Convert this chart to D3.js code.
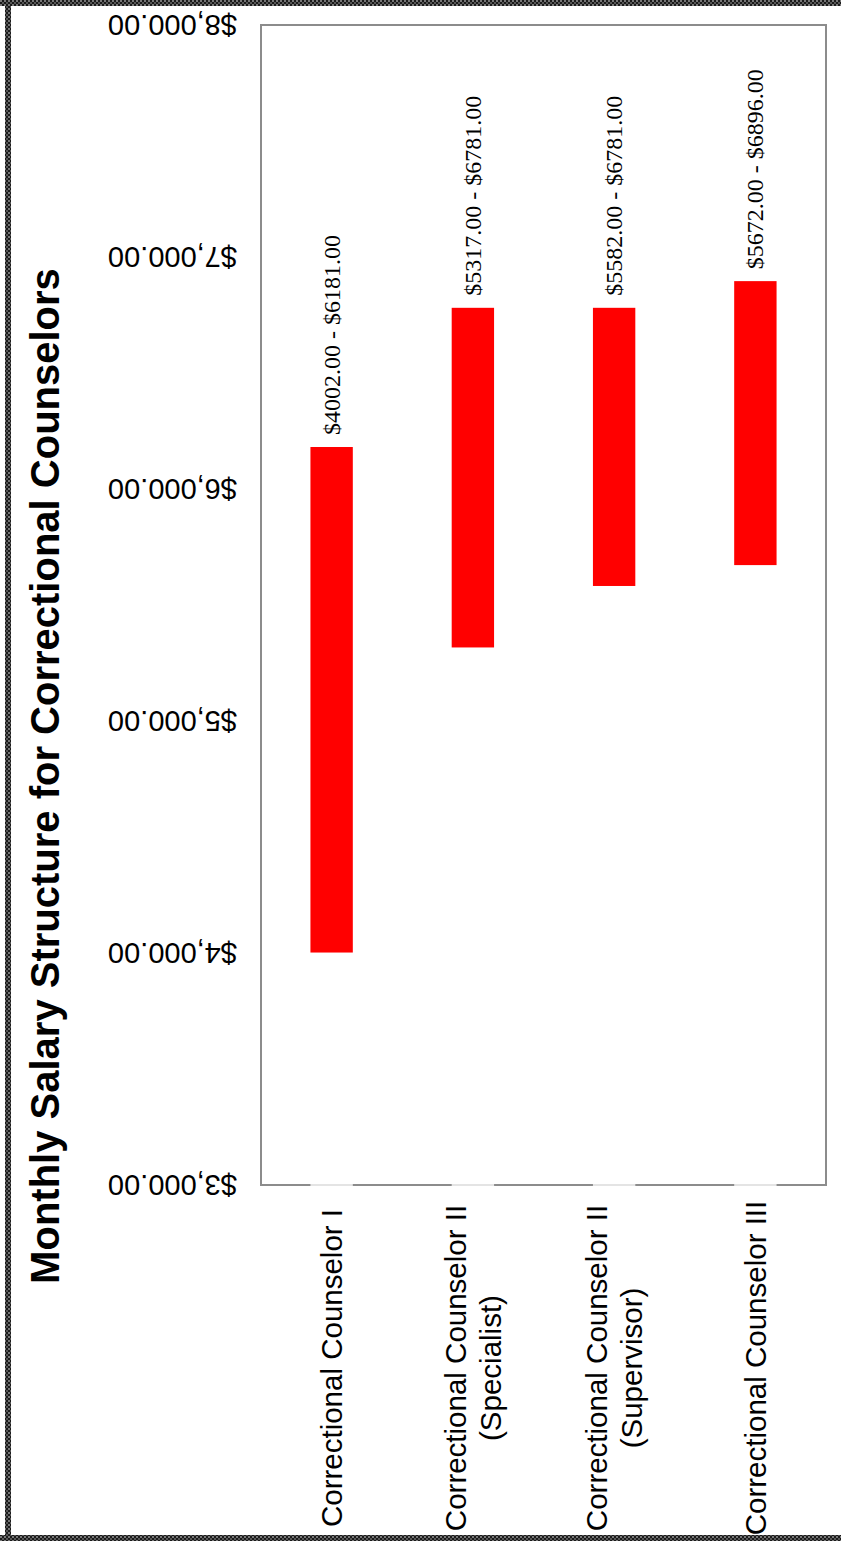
<!DOCTYPE html>
<html>
<head>
<meta charset="utf-8">
<script src="https://cdnjs.cloudflare.com/ajax/libs/d3/7.8.5/d3.min.js"></script>
<style>
	html, body { margin: 0; padding: 0; background: #fff; }
	svg { display: block; }
</style>
</head>
<body>
<svg id="chart"></svg>
<script>
// chart values
var categories = [
	["Correctional Counselor I"],
	["Correctional Counselor II", "(Specialist)"],
	["Correctional Counselor II", "(Supervisor)"],
	["Correctional Counselor III"]
];
var minSalary = [4002, 5317, 5582, 5672];
var maxSalary = [6181, 6781, 6781, 6896];
var tickValues = [3000, 4000, 5000, 6000, 7000, 8000];
var title = "Monthly Salary Structure for Correctional Counselors";

var W = 841, H = 1541;
var plot = {left: 261, right: 826, top: 25, bottom: 1185};

var svg = d3.select("#chart")
	.attr("width", W)
	.attr("height", H);

// checkered frame around the page
var defs = svg.append("defs");
var pat = defs.append("pattern")
	.attr("id", "frame")
	.attr("width", 4).attr("height", 4)
	.attr("patternUnits", "userSpaceOnUse");
pat.append("rect").attr("width", 4).attr("height", 4).attr("fill", "#1a1a1a");
pat.append("rect").attr("width", 2).attr("height", 2).attr("fill", "#777");
pat.append("rect").attr("x", 2).attr("y", 2).attr("width", 2).attr("height", 2).attr("fill", "#555");

svg.append("rect").attr("x", 0).attr("y", 0).attr("width", W).attr("height", 6).attr("fill", "url(#frame)");
svg.append("rect").attr("x", 5).attr("y", 0).attr("width", 6).attr("height", H).attr("fill", "url(#frame)");
svg.append("rect").attr("x", 0).attr("y", H - 6).attr("width", W).attr("height", 6).attr("fill", "url(#frame)");

var x = d3.scaleBand()
	.domain(d3.range(categories.length))
	.range([plot.left, plot.right])
	.paddingInner(0).paddingOuter(0);

var y = d3.scaleLinear()
	.domain([3000, 8000])
	.range([plot.bottom, plot.top]);

var barW = x.bandwidth() * 0.3;
var money = d3.format(".2f");

// plot frame
svg.append("rect")
	.attr("x", plot.left).attr("y", plot.top)
	.attr("width", plot.right - plot.left)
	.attr("height", plot.bottom - plot.top)
	.attr("fill", "none")
	.attr("stroke", "#8c8c8c")
	.attr("stroke-width", 2);

// light segments on the base line under each bar
svg.selectAll("line.base")
	.data(categories)
	.enter()
	.append("line")
	.attr("class", "base")
	.attr("x1", function(d, i){ return x(i) + x.bandwidth() / 2 - barW / 2; })
	.attr("x2", function(d, i){ return x(i) + x.bandwidth() / 2 + barW / 2; })
	.attr("y1", plot.bottom).attr("y2", plot.bottom)
	.attr("stroke", "#e4e4e4")
	.attr("stroke-width", 2);

// value axis labels, drawn upside down like the source
svg.selectAll("text.tick")
	.data(tickValues)
	.enter()
	.append("text")
	.attr("class", "tick")
	.attr("transform", function(d){ return "translate(237," + y(d) + ") rotate(180)"; })
	.attr("dominant-baseline", "central")
	.attr("text-anchor", "start")
	.style("font-family", "'Liberation Sans', Arial, sans-serif")
	.style("font-size", "29px")
	.text(function(d){ return "$" + d3.format(",.2f")(d); });

// floating bars
svg.selectAll("rect.bar")
	.data(minSalary)
	.enter()
	.append("rect")
	.attr("class", "bar")
	.attr("x", function(d, i){ return x(i) + x.bandwidth() / 2 - barW / 2; })
	.attr("y", function(d, i){ return y(maxSalary[i]); })
	.attr("width", barW)
	.attr("height", function(d, i){ return y(d) - y(maxSalary[i]); })
	.attr("fill", "#ff0000");

// range labels above bars
svg.selectAll("text.range")
	.data(minSalary)
	.enter()
	.append("text")
	.attr("class", "range")
	.attr("transform", function(d, i){
		return "translate(" + (x(i) + x.bandwidth() / 2) + "," + (y(maxSalary[i]) - 12) + ") rotate(-90)";
	})
	.attr("dominant-baseline", "central")
	.attr("text-anchor", "start")
	.style("font-family", "'Liberation Serif', 'Times New Roman', serif")
	.style("font-size", "24px")
	.text(function(d, i){ return "$" + money(d) + " - $" + money(maxSalary[i]); });

// category labels
var cat = svg.selectAll("g.cat")
	.data(categories)
	.enter()
	.append("g")
	.attr("class", "cat")
	.attr("transform", function(d, i){
		return "translate(" + (x(i) + x.bandwidth() / 2) + ",1368) rotate(-90)";
	});

cat.selectAll("text")
	.data(function(d){ return d.map(function(s, k){ return {s: s, k: k, n: d.length}; }); })
	.enter()
	.append("text")
	.attr("x", 0)
	.attr("y", function(d){ return (d.k - (d.n - 1) / 2) * 35; })
	.attr("dominant-baseline", "central")
	.attr("text-anchor", "middle")
	.style("font-family", "'Liberation Sans', Arial, sans-serif")
	.style("font-size", "29.5px")
	.text(function(d){ return d.s; });

// title
svg.append("text")
	.attr("transform", "translate(45,776) rotate(-90)")
	.attr("dominant-baseline", "central")
	.attr("text-anchor", "middle")
	.style("font-family", "'Liberation Sans', Arial, sans-serif")
	.style("font-weight", "bold")
	.style("font-size", "40px")
	.text(title);
</script>
</body>
</html>
